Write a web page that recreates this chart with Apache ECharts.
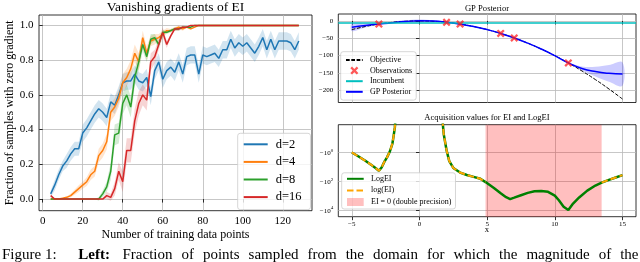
<!DOCTYPE html>
<html><head><meta charset="utf-8">
<script src="https://cdn.jsdelivr.net/npm/echarts@6/dist/echarts.min.js"></script>
<style>html,body{margin:0;padding:0;background:#fff}#c{width:640px;height:262px}</style>
</head><body><div id="c"></div>
<script>
const FONT = '"Liberation Serif", "Times New Roman", serif';

// ---------- Left panel: Vanishing gradients of EI ----------
const nTrain = [4,6,8,10,12,14,16,18,20,22,
  24,26,28,30,32,34,36,38,40,42,
  44,46,48,50,52,54,56,58,60,62,
  64,66,68,70,72,74,76,78,80,82,
  84,86,88,90,92,94,96,98,100,102,
  104,106,108,110,112,114,116,118,120,122,
  124,126,128];
const fracD2 = [0.03,0.08,0.14,0.19,0.22,0.26,0.29,0.29,0.38,0.41,
  0.45,0.49,0.52,0.50,0.47,0.56,0.54,0.60,0.67,0.68,
  0.68,0.72,0.68,0.67,0.70,0.59,0.74,0.79,0.69,0.74,
  0.76,0.73,0.79,0.72,0.82,0.83,0.83,0.72,0.83,0.82,
  0.83,0.84,0.81,0.86,0.86,0.92,0.87,0.90,0.88,0.90,
  0.87,0.84,0.88,0.93,0.86,0.92,0.86,0.91,0.91,0.91,
  0.90,0.86,0.91];
const fracD4 = [0,0,0,0.005,0.01,0.02,0.04,0.06,0.08,0.10,
  0.14,0.16,0.25,0.28,0.33,0.50,0.53,0.58,0.67,0.70,
  0.75,0.84,0.79,0.93,0.84,0.91,0.92,0.93,0.95,0.97,
  0.97,0.98,0.99,0.98,0.99,0.98,0.99,1,1,1,
  1,1,1,1,1,1,1,1,1,1,
  1,1,1,1,1,1,1,1,1,1,
  1,1,1];
const fracD8 = [0,0,0,0,0,0,0,0,0,0,
  0,0,0,0.03,0.07,0.16,0.37,0.38,0.55,0.60,
  0.53,0.70,0.79,0.89,0.82,0.92,0.93,0.89,0.96,0.96,
  0.97,0.98,0.98,0.99,0.99,0.99,1,1,1,1,
  1,1,1,1,1,1,1,1,1,1,
  1,1,1,1,1,1,1,1,1,1,
  1,1,1];
const fracD16 = [0.02,0,0,0,0,0,0,0,0,0,
  0,0,0,0,0.02,0.01,0.06,0.16,0.10,0.28,
  0.28,0.45,0.55,0.60,0.57,0.79,0.82,0.89,0.96,0.89,
  0.94,0.98,0.98,0.99,0.99,1,1,1,1,1,
  1,1,1,1,1,1,1,1,1,1,
  1,1,1,1,1,1,1,1,1,1,
  1,1,1];
const bandD2 = [0.02,0.03,0.03,0.03,0.04,0.04,0.04,0.04,0.05,0.05,
  0.05,0.05,0.05,0.05,0.05,0.05,0.05,0.05,0.05,0.05,
  0.05,0.05,0.05,0.05,0.05,0.05,0.05,0.05,0.05,0.05,
  0.05,0.05,0.05,0.05,0.05,0.05,0.05,0.05,0.05,0.05,
  0.05,0.05,0.05,0.05,0.05,0.05,0.05,0.05,0.05,0.05,
  0.05,0.05,0.05,0.05,0.05,0.05,0.05,0.05,0.05,0.05,
  0.05,0.05,0.05];
const bandD4 = [0,0,0,0,0.005,0.01,0.015,0.02,0.02,0.025,
  0.03,0.03,0.04,0.04,0.045,0.05,0.05,0.05,0.05,0.05,
  0.05,0.05,0.05,0.04,0.04,0.03,0.03,0.02,0.02,0.015,
  0.01,0.01,0.01,0.01,0.005,0.005,0,0,0,0,
  0,0,0,0,0,0,0,0,0,0,
  0,0,0,0,0,0,0,0,0,0,
  0,0,0];
const bandD8 = [0,0,0,0,0,0,0,0,0,0,
  0,0,0.01,0.02,0.03,0.05,0.06,0.06,0.06,0.06,
  0.06,0.05,0.05,0.04,0.03,0.03,0.02,0.02,0.015,0.01,
  0.01,0.01,0.01,0.005,0,0,0,0,0,0,
  0,0,0,0,0,0,0,0,0,0,
  0,0,0,0,0,0,0,0,0,0,
  0,0,0];
const bandD16 = [0.01,0,0,0,0,0,0,0,0,0,
  0,0,0,0,0.02,0.02,0.04,0.05,0.06,0.07,
  0.07,0.07,0.07,0.06,0.06,0.05,0.04,0.03,0.03,0.02,
  0.01,0.01,0.01,0.01,0.005,0,0,0,0,0,
  0,0,0,0,0,0,0,0,0,0,
  0,0,0,0,0,0,0,0,0,0,
  0,0,0];
const leftNames = ['d=2','d=4','d=8','d=16'];
const leftXTicks = [0,20,40,60,80,100,120];
const leftYTicks = [0,0.2,0.4,0.6,0.8,1.0];

// ---------- Top right: GP Posterior ----------
const gpX = [-5,-4,-3,-2,-1,0,1,2,3,4,5,6,7,8,9,10,11,12,13,14,15];
const objective = [-25,-16,-9,-4,-1,0,-1,-4,-9,-16,-25,-36,-49,-64,-81,-100,-121,-144,-169,-196,-225];
const gpMean = [-18,-13,-9,-5,-1.5,0.5,0,-3.5,-9,-16,-25,-36,-49,-64,-81,-100,-121,-137,-146,-151,-153];
const gpBand = [11,6,1,2.5,4,4,2.5,1,1,1,1,1,1,1,1,1,1,6,14,24,34];
const obsX = [-3,2,3,6,7,11];
const obsY = [-9,-4,-9,-36,-49,-121];
const incumbent = -4;
const rightXTicks = [-5,0,5,10,15];
const gpYTicks = [-200,-150,-100,-50,0];

// ---------- Bottom right: acquisition values (log scale of negative values) ----------
const acqLeftX = [-5,-4.5,-4,-3.5,-3.2,-3.0,-2.8,-2.6,-2.4,-2.2,-2.0,-1.9,-1.82,-1.78];
const acqLeftY = [-1.0,-1.9,-3.8,-8,-13,-19,-11,-4.5,-2.2,-0.9,-0.24,-0.06,-0.018,-0.005];
const acqRightX = [1.7,1.75,1.8,1.9,2.0,2.2,2.5,3.0,3.5,4.0,4.5,4.88,5.5,6.0,6.4,6.7,7.0,7.5,8.0,8.5,9.0,9.5,10.0,10.3,10.65,11.0,11.35,11.8,12.4,13.0,13.46,14.0,14.5,15.0];
const acqRightY = [-0.005,-0.02,-0.06,-0.2,-0.7,-4,-12,-25,-37,-50,-68,-115,-300,-700,-1300,-1750,-1400,-950,-650,-500,-480,-550,-1000,-2100,-6000,-10000,-3600,-1350,-450,-200,-125,-80,-55,-38];
const eiZeroRange = [4.88, 13.46];
const acqYTicks = [1, 100, 10000]; // magnitudes: -10^0, -10^2, -10^4

// ---------- caption ----------
const captionA = 'Figure 1:';
const captionB = 'Left:';
const captionC = 'Fraction of points sampled from the domain for which the magnitude of the';

const COLORS = ['#1f77b4','#ff7f0e','#2ca02c','#d62728'];
const GRIDC = '#b9b9b9';

function axisCommon(ticks, labelShow, fontSize, fmt, margin) {
  return {
    axisLine: {show: false},
    axisTick: {show: true, customValues: ticks, length: 3.5, inside: false, lineStyle: {color: '#000', width: 0.8}},
    axisLabel: {show: labelShow, customValues: ticks, fontFamily: FONT, fontSize: fontSize, color: '#000', margin: margin, formatter: fmt},
    splitLine: {show: true, lineStyle: {color: GRIDC, width: 0.8}}
  };
}
const minus = v => (v < 0 ? '\u2212' + Math.abs(v) : String(v));

// shaded band drawn as a polygon through the axes' own scales
function bandSeries(axisIdx, xs, mid, hw, color, opacity, smooth) {
  return {type:'custom', name:'_band', xAxisIndex:axisIdx, yAxisIndex:axisIdx, silent:true, z:1, clip:true,
    data:[[xs[0], mid[0]]], encode:{x:0, y:1},
    renderItem: (params, api) => {
      const up = xs.map((x,k)=>api.coord([x, mid[k]+hw[k]]));
      const lo = xs.map((x,k)=>api.coord([x, mid[k]-hw[k]])).reverse();
      return {type:'polygon', shape:{points: up.concat(lo), smooth: smooth}, style:{fill: color, opacity: opacity}};
    }};
}

const series = [];
const leftData = [fracD2, fracD4, fracD8, fracD16];
const leftBands = [bandD2, bandD4, bandD8, bandD16];
leftData.forEach((vals, i) => series.push(bandSeries(0, nTrain, vals, leftBands[i], COLORS[i], 0.2, 0)));
leftData.forEach((vals, i) => {
  series.push({type:'line', name: leftNames[i], xAxisIndex:0, yAxisIndex:0,
    data: nTrain.map((x,k)=>[x, vals[k]]), symbol:'none', showSymbol:false,
    lineStyle:{color: COLORS[i], width: 1.5}, itemStyle:{color: COLORS[i]}, z:3});
});

// GP panel
series.push(bandSeries(1, gpX, gpMean, gpBand, '#0000ff', 0.2, 0.35));
series.push({type:'line', name:'Incumbent', xAxisIndex:1, yAxisIndex:1, data:[[gpX[0], incumbent]],
  symbol:'none', lineStyle:{color:'#00bfbf', width:1.5}, itemStyle:{color:'#00bfbf'}, z:2,
  markLine:{silent:true, symbol:'none', label:{show:false}, animation:false,
    lineStyle:{color:'#00bfbf', width:1.5, type:'solid'}, data:[{yAxis: incumbent}]}});
series.push({type:'line', name:'Objective', xAxisIndex:1, yAxisIndex:1, smooth:true,
  data: gpX.map((x,k)=>[x, objective[k]]), symbol:'none',
  lineStyle:{color:'#000', width:1, type:[3.7,1.6]}, itemStyle:{color:'#000'}, z:3});
series.push({type:'line', name:'GP Posterior', xAxisIndex:1, yAxisIndex:1, smooth:true,
  data: gpX.map((x,k)=>[x, gpMean[k]]), symbol:'none',
  lineStyle:{color:'#0000ff', width:1.5}, itemStyle:{color:'#0000ff'}, z:4});
const XPATH = 'path://M0,2L2,0L5,3L8,0L10,2L7,5L10,8L8,10L5,7L2,10L0,8L3,5Z';
series.push({type:'scatter', name:'Observations', xAxisIndex:1, yAxisIndex:1,
  data: obsX.map((x,k)=>[x, obsY[k]]), symbol: XPATH, symbolSize: 8,
  itemStyle:{color:'#ff2020', opacity:0.75}, z:5});

// Acquisition panel
const REGION = 'rgba(255,0,0,0.25)';
series.push({type:'custom', name:'EI = 0 (double precision)', xAxisIndex:2, yAxisIndex:2,
  data:[[eiZeroRange[0], eiZeroRange[1], 1]], encode:{x:[0,1], y:2},
  itemStyle:{color: REGION}, z:1, silent:true,
  renderItem: (params, api) => {
    const a = api.coord([api.value(0), api.value(2)]);
    const b = api.coord([api.value(1), api.value(2)]);
    const cs = params.coordSys;
    return {type:'rect', shape:{x:a[0], y:cs.y, width:b[0]-a[0], height:cs.height}, style:{fill: REGION}};
  }});
const toPts = (xs, ys) => xs.map((x,k)=>[x, -ys[k]]);
const leftPts = toPts(acqLeftX, acqLeftY);
const rightPts = toPts(acqRightX, acqRightY);
[leftPts, rightPts].forEach(pts => {
  series.push({type:'line', name:'LogEI', xAxisIndex:2, yAxisIndex:2, data: pts, symbol:'none',
    lineStyle:{color:'#008000', width:2.5}, itemStyle:{color:'#008000'}, z:3, clip:true});
});
const orangeSegs = [leftPts, rightPts.filter(p=>p[0] <= eiZeroRange[0]), rightPts.filter(p=>p[0] >= eiZeroRange[1])];
orangeSegs.forEach(pts => {
  series.push({type:'line', name:'log(EI)', xAxisIndex:2, yAxisIndex:2, data: pts, symbol:'none',
    lineStyle:{color:'#ffa500', width:2, type:[6.5,3]}, itemStyle:{color:'#ffa500'}, z:4, clip:true});
});

// graphics: titles, axis names, caption
const graphics = [];
function txt(text, x, y, size, opts) {
  opts = opts || {};
  graphics.push({type:'text', x:x, y:y, rotation: opts.rotation || 0, z: 100,
    style:{text:text, font: (opts.weight||'normal') + ' ' + size + 'px ' + FONT, fill:'#000',
      textAlign: opts.align || 'center', textVerticalAlign:'middle', align: opts.align || 'center', verticalAlign:'middle'}});
}
txt('Vanishing gradients of EI', 175.5, 7, 13.5);
txt('Fraction of samples with zero gradient', 9.5, 112.9, 12, {rotation: Math.PI/2});
txt('Number of training data points', 175.5, 235, 12);
txt('GP Posterior', 487, 8.5, 8.6);
txt('Acquisition values for EI and LogEI', 487, 117.5, 8.6);
txt('x', 487, 230, 8.6);
txt(captionA, 2, 255, 15, {align:'left'});
txt(captionB, 78.3, 255, 15, {align:'left', weight:'bold'});
(function(){
  const ctx = document.createElement('canvas').getContext('2d');
  ctx.font = '15px ' + FONT;
  const words = captionC.split(' ');
  const w = words.map(s => ctx.measureText(s).width);
  const total = w.reduce((a,b)=>a+b, 0);
  const x0 = 122.5, x1 = 638.5;
  const gap = (x1 - x0 - total) / (words.length - 1);
  let cx = x0;
  words.forEach((s,i) => { txt(s, cx, 255, 15, {align:'left'}); cx += w[i] + gap; });
})();

const legendBase = {orient:'vertical', backgroundColor:'rgba(255,255,255,0.8)', borderColor:'#cccccc',
  borderWidth:0.8, borderRadius:2.5, selectedMode:false, itemStyle:{opacity:0}};

const option = {
  animation: false,
  backgroundColor: '#fff',
  grid: [
    {left:39, top:15, width:273, height:195.7, show:true, borderColor:'#000', borderWidth:0.8, backgroundColor:'transparent', containLabel:false, outerBoundsMode:'none'},
    {left:338.3, top:14, width:297.7, height:88.5, show:true, borderColor:'#000', borderWidth:0.8, backgroundColor:'transparent', containLabel:false, outerBoundsMode:'none'},
    {left:338.3, top:124.7, width:297.7, height:92, show:true, borderColor:'#000', borderWidth:0.8, backgroundColor:'transparent', containLabel:false, outerBoundsMode:'none'}
  ],
  xAxis: [
    Object.assign({type:'value', gridIndex:0, min:-1.85, max:134.6}, axisCommon(leftXTicks, true, 11, v=>String(v), 5)),
    Object.assign({type:'value', gridIndex:1, min:-6, max:16}, axisCommon(rightXTicks, false, 7, minus, 3.5)),
    Object.assign({type:'value', gridIndex:2, min:-6, max:16}, axisCommon(rightXTicks, true, 7, minus, 3.5))
  ],
  yAxis: [
    Object.assign({type:'value', gridIndex:0, min:-0.067, max:1.06}, axisCommon(leftYTicks, true, 11, v=>v.toFixed(1), 5.5)),
    Object.assign({type:'value', gridIndex:1, min:-235, max:20}, axisCommon(gpYTicks, true, 7, minus, 5)),
    (function(){
      const a = Object.assign({type:'log', logBase:10, gridIndex:2, inverse:true, min:0.0117, max:29500},
        axisCommon(acqYTicks, true, 7, v => '{a|\u221210}{b|' + Math.round(Math.log10(v)) + '}', 5));
      a.axisLabel.rich = {a:{fontFamily:FONT, fontSize:7, color:'#000', verticalAlign:'bottom'},
                          b:{fontFamily:FONT, fontSize:5, color:'#000', verticalAlign:'bottom', padding:[0,0,4,0]}};
      a.minorTick = {show:false}; a.minorSplitLine = {show:false};
      return a;
    })()
  ],
  legend: [
    Object.assign({}, legendBase, {data: leftNames, left:237.7, top:133.3, itemWidth:24, itemHeight:12, itemGap:4.6,
      padding:[4.5,9,6,5], textStyle:{fontFamily:FONT, fontSize:12.5, lineHeight:12.5, color:'#000', padding:[0,0,0,3]}}),
    Object.assign({}, legendBase, {data: ['Objective',{name:'Observations', itemStyle:{opacity:0.75}},'Incumbent','GP Posterior'], left:340.7, top:51.7,
      itemWidth:16.7, itemHeight:8, itemGap:2.6, padding:[4.3,4,4.3,4.3],
      textStyle:{fontFamily:FONT, fontSize:8, lineHeight:8, color:'#000', padding:[0,0,0,2.3]}}),
    Object.assign({}, legendBase, {data: ['LogEI','log(EI)',{name:'EI = 0 (double precision)', icon:'rect', itemStyle:{opacity:1}}], left:341.7, top:172.8,
      itemWidth:16.7, itemHeight:8, itemGap:3.6, padding:[2,4,3,4.3],
      textStyle:{fontFamily:FONT, fontSize:8, lineHeight:8, color:'#000', padding:[0,0,0,2.3]}})
  ],
  series: series,
  graphic: graphics
};
const chart = echarts.init(document.getElementById('c'), null, {renderer:'canvas', width:640, height:262});
chart.setOption(option);
</script>
</body></html>
